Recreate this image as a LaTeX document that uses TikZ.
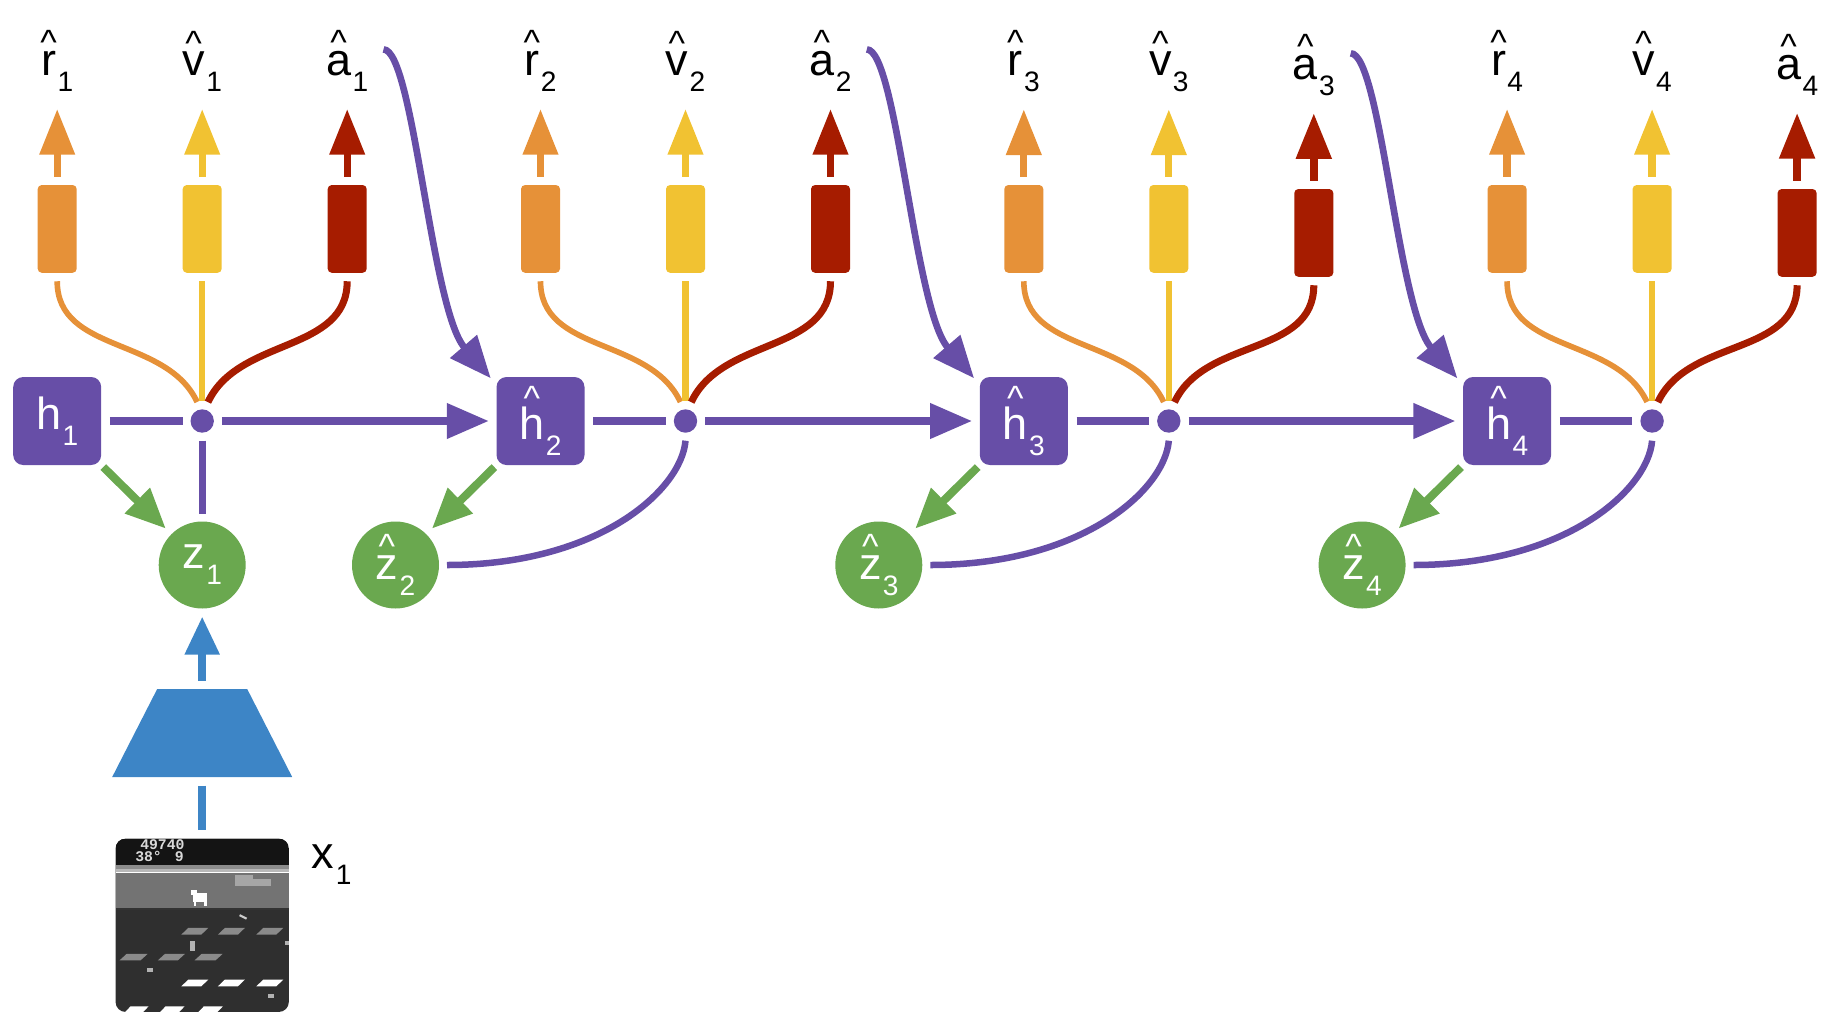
\documentclass[tikz,border=0pt]{standalone}
\usepackage{fontspec}
\setmainfont{Liberation Sans}
\newfontfamily\scrfont{Liberation Mono}
\usetikzlibrary{arrows.meta}

\definecolor{purp}{HTML}{674EA7}
\definecolor{orng}{HTML}{E69138}
\definecolor{yell}{HTML}{F1C232}
\definecolor{redd}{HTML}{A61C00}
\definecolor{grn}{HTML}{6AA84F}
\definecolor{blu}{HTML}{3D85C6}
\definecolor{scrdark}{HTML}{2F2F2F}
\definecolor{scrmid}{HTML}{737373}
\definecolor{floe}{HTML}{8A8A8A}

\newcommand{\hatl}[1]{\setbox0\hbox{#1}\hbox to\wd0{\hss\raisebox{\dimexpr\ht0-0.96pt\relax}{\fontsize{10}{10}\selectfont\textasciicircum}\hss}\kern-\wd0\box0}
\newcommand{\hsub}[2]{\hatl{#1}\kern0.4pt\raisebox{-4.5pt}{\fontsize{8}{9}\selectfont #2}}
\newcommand{\psub}[2]{#1\kern0.4pt\raisebox{-4.5pt}{\fontsize{8}{9}\selectfont #2}}

\begin{document}
\begin{tikzpicture}[
    font=\fontsize{12.8}{15}\selectfont,
    hbox/.style={rectangle, rounded corners=0.1cm, fill=purp, text=white, minimum size=0.88cm, inner sep=0},
    zc/.style={circle, fill=grn, text=white, minimum size=0.87cm, inner sep=0, outer sep=0.08cm},
    mix/.style={circle, fill=purp, minimum size=0.234cm, inner sep=0, outer sep=0.08cm},
    headbox/.style={rectangle, rounded corners=0.04cm, fill=#1, minimum width=0.39cm, minimum height=0.877cm, inner sep=0, outer sep=0.085cm},
    lab/.style={anchor=base, inner sep=0},
    scrtext/.style={inner sep=0, text=black!15, font=\scrfont\bfseries\fontsize{4.2}{5}\selectfont},
    outarrow/.style={draw=#1, line width=2.1pt, -{Triangle[length=0.457cm,width=0.34cm]}, shorten >=0.17cm},
    feed/.style={draw=#1, line width=1.8pt},
    recur/.style={draw=purp, line width=2.1pt},
    recurarrow/.style={recur, -{Triangle[length=0.42cm,width=0.34cm]}},
    zarrow/.style={draw=grn, line width=2.3pt, -{Triangle[length=0.40cm,width=0.34cm]}, shorten <=0.02cm},
    encarrow/.style={draw=blu, line width=2.3pt, -{Triangle[length=0.38cm,width=0.33cm]}},
  ]
      \useasboundingbox (0,0) rectangle (18.46,-10.24);

      \node[hbox] (h1) at (0.572,-4.21) {\psub{h}{1}};
      \node[hbox] (h2) at (5.405,-4.21) {\hsub{h}{2}};
      \node[hbox] (h3) at (10.238,-4.21) {\hsub{h}{3}};
      \node[hbox] (h4) at (15.071,-4.21) {\hsub{h}{4}};

      \node[mix] (dot1) at (2.022,-4.21) {};
      \node[mix] (dot2) at (6.855,-4.21) {};
      \node[mix] (dot3) at (11.688,-4.21) {};
      \node[mix] (dot4) at (16.521,-4.21) {};

      \node[zc] (z1) at (2.022,-5.65) {\psub{z}{1}};
      \node[zc] (z2) at (3.955,-5.65) {\hsub{z}{2}};
      \node[zc] (z3) at (8.788,-5.65) {\hsub{z}{3}};
      \node[zc] (z4) at (13.621,-5.65) {\hsub{z}{4}};

      \node[headbox=orng] (rbox1) at (0.572,-2.289) {};
      \node[headbox=yell] (vbox1) at (2.022,-2.289) {};
      \node[headbox=redd] (abox1) at (3.472,-2.289) {};
      \node[headbox=orng] (rbox2) at (5.405,-2.289) {};
      \node[headbox=yell] (vbox2) at (6.855,-2.289) {};
      \node[headbox=redd] (abox2) at (8.305,-2.289) {};
      \node[headbox=orng] (rbox3) at (10.238,-2.289) {};
      \node[headbox=yell] (vbox3) at (11.688,-2.289) {};
      \node[headbox=redd] (abox3) at (13.138,-2.329) {};
      \node[headbox=orng] (rbox4) at (15.071,-2.289) {};
      \node[headbox=yell] (vbox4) at (16.521,-2.289) {};
      \node[headbox=redd] (abox4) at (17.971,-2.329) {};

      \node[lab] (rlab1) at (0.572,-0.755) {\hsub{r}{1}};
      \node[lab] (vlab1) at (2.022,-0.755) {\hsub{v}{1}};
      \node[lab] (alab1) at (3.472,-0.755) {\hsub{a}{1}};
      \node[lab] (rlab2) at (5.405,-0.755) {\hsub{r}{2}};
      \node[lab] (vlab2) at (6.855,-0.755) {\hsub{v}{2}};
      \node[lab] (alab2) at (8.305,-0.755) {\hsub{a}{2}};
      \node[lab] (rlab3) at (10.238,-0.755) {\hsub{r}{3}};
      \node[lab] (vlab3) at (11.688,-0.755) {\hsub{v}{3}};
      \node[lab] (alab3) at (13.138,-0.793) {\hsub{a}{3}};
      \node[lab] (rlab4) at (15.071,-0.755) {\hsub{r}{4}};
      \node[lab] (vlab4) at (16.521,-0.755) {\hsub{v}{4}};
      \node[lab] (alab4) at (17.971,-0.793) {\hsub{a}{4}};

      \coordinate (aout1) at (3.835,-0.494);
      \coordinate (aout2) at (8.668,-0.494);
      \coordinate (aout3) at (13.507,-0.533);

      \draw[outarrow=orng] (rbox1.north) -- (rlab1.south);
      \draw[outarrow=yell] (vbox1.north) -- (vlab1.south);
      \draw[outarrow=redd] (abox1.north) -- (alab1.south);
      \draw[outarrow=orng] (rbox2.north) -- (rlab2.south);
      \draw[outarrow=yell] (vbox2.north) -- (vlab2.south);
      \draw[outarrow=redd] (abox2.north) -- (alab2.south);
      \draw[outarrow=orng] (rbox3.north) -- (rlab3.south);
      \draw[outarrow=yell] (vbox3.north) -- (vlab3.south);
      \draw[outarrow=redd, line width=2.3pt] (abox3.north) -- (alab3.south);
      \draw[outarrow=orng] (rbox4.north) -- (rlab4.south);
      \draw[outarrow=yell] (vbox4.north) -- (vlab4.south);
      \draw[outarrow=redd, line width=2.3pt] (abox4.north) -- (alab4.south);

      \draw[feed=orng, line width=1.6pt] (rbox1.south) to[out=-90,in=115] (dot1.105);
      \draw[feed=yell] (vbox1.south) -- (dot1.north);
      \draw[feed=redd, line width=2pt] (abox1.south) to[out=-90,in=65] (dot1.73);
      \draw[feed=orng, line width=1.6pt] (rbox2.south) to[out=-90,in=115] (dot2.105);
      \draw[feed=yell] (vbox2.south) -- (dot2.north);
      \draw[feed=redd, line width=2pt] (abox2.south) to[out=-90,in=65] (dot2.73);
      \draw[feed=orng, line width=1.6pt] (rbox3.south) to[out=-90,in=115] (dot3.105);
      \draw[feed=yell] (vbox3.south) -- (dot3.north);
      \draw[feed=redd, line width=2pt] (abox3.south) to[out=-90,in=65] (dot3.73);
      \draw[feed=orng, line width=1.6pt] (rbox4.south) to[out=-90,in=115] (dot4.105);
      \draw[feed=yell] (vbox4.south) -- (dot4.north);
      \draw[feed=redd, line width=2pt] (abox4.south) to[out=-90,in=65] (dot4.73);

      \draw[recur, shorten <=0.08cm] (h1.east) -- (dot1.west);
      \draw[recur, shorten <=0.08cm] (h2.east) -- (dot2.west);
      \draw[recur, shorten <=0.08cm] (h3.east) -- (dot3.west);
      \draw[recur, shorten <=0.08cm] (h4.east) -- (dot4.west);
      \draw[recurarrow, shorten >=0.07cm] (dot1.east) -- (h2.west);
      \draw[recurarrow, shorten >=0.07cm] (dot2.east) -- (h3.west);
      \draw[recurarrow, shorten >=0.07cm] (dot3.east) -- (h4.west);

      \draw[recur] (dot1.south) -- (z1.north);
      \draw[recur, line width=1.85pt] (dot2.south) .. controls +(-0.04,-0.49) and +(1.52,0) .. (z2.east);
      \draw[recur, line width=1.85pt] (dot3.south) .. controls +(-0.04,-0.49) and +(1.52,0) .. (z3.east);
      \draw[recur, line width=1.85pt] (dot4.south) .. controls +(-0.04,-0.49) and +(1.52,0) .. (z4.east);

      \draw[recurarrow, line width=1.9pt] (aout1) .. controls +(0.30,0) and +(-0.60,0.70) .. ([shift={(-0.05,-0.02)}]h2.north west);
      \draw[recurarrow, line width=1.9pt] (aout2) .. controls +(0.30,0) and +(-0.60,0.70) .. ([shift={(-0.05,-0.02)}]h3.north west);
      \draw[recurarrow, line width=1.9pt] (aout3) .. controls +(0.30,0) and +(-0.60,0.70) .. ([shift={(-0.05,-0.02)}]h4.north west);

      \draw[zarrow] (h1.south east) -- (z1.north west);
      \draw[zarrow] (h2.south west) -- (z2.north east);
      \draw[zarrow] (h3.south west) -- (z3.north east);
      \draw[zarrow] (h4.south west) -- (z4.north east);

      \fill[blu] (1.122,-7.77) -- (2.922,-7.77) -- (2.472,-6.89) -- (1.572,-6.89) -- cycle;
      \coordinate (enctop) at (2.022,-6.89);
      \coordinate (encbot) at (2.022,-7.77);
      \node[rectangle, rounded corners=0.1cm, fill=scrdark, minimum size=1.733cm, inner sep=0, outer sep=0.09cm] (scr) at (2.022,-9.253) {};
      \node[lab] (xlab) at (3.317,-8.683) {\psub{x}{1}};

      \draw[encarrow, shorten <=0.085cm] (enctop) -- (z1.south);
      \draw[draw=blu, line width=2.3pt, shorten <=0.087cm] (encbot) -- (scr.north);

      \begin{scope}[shift={(1.1555,-8.3865)}]
        \clip[rounded corners=0.1cm] (0,0) rectangle (1.733,-1.733);
        \fill[black!92] (0,0) rectangle (1.733,-0.26);
        \fill[black!45] (0,-0.26) rectangle (1.733,-0.30);
        \fill[black!28] (0,-0.30) rectangle (1.733,-0.33);
        \fill[white] (0,-0.33) rectangle (1.733,-0.343);
        \fill[scrmid] (0,-0.343) rectangle (1.733,-0.693);
        \fill[black!35] (1.19,-0.36) rectangle (1.373,-0.477);
        \fill[black!35] (1.373,-0.40) rectangle (1.557,-0.477);
        \fill[white] (0.775,-0.545) rectangle (0.915,-0.635);
        \fill[white] (0.757,-0.51) rectangle (0.815,-0.565);
        \fill[white] (0.78,-0.635) rectangle (0.805,-0.67);
        \fill[white] (0.885,-0.635) rectangle (0.91,-0.67);
        \fill[black!80] (0,-0.693) rectangle (1.733,-0.71);

        \fill[floe] (0.657,-0.96) -- ++(0.20,0) -- ++(0.07,0.067) -- ++(-0.20,0) -- cycle;
        \fill[floe] (1.023,-0.96) -- ++(0.20,0) -- ++(0.07,0.067) -- ++(-0.20,0) -- cycle;
        \fill[floe] (1.407,-0.96) -- ++(0.20,0) -- ++(0.07,0.067) -- ++(-0.20,0) -- cycle;
        \fill[floe] (0.04,-1.217) -- ++(0.21,0) -- ++(0.07,0.064) -- ++(-0.21,0) -- cycle;
        \fill[floe] (0.423,-1.217) -- ++(0.20,0) -- ++(0.07,0.064) -- ++(-0.20,0) -- cycle;
        \fill[floe] (0.79,-1.217) -- ++(0.21,0) -- ++(0.07,0.064) -- ++(-0.21,0) -- cycle;
        \fill[white] (0.657,-1.477) -- ++(0.20,0) -- ++(0.07,0.067) -- ++(-0.20,0) -- cycle;
        \fill[white] (1.023,-1.477) -- ++(0.20,0) -- ++(0.07,0.067) -- ++(-0.20,0) -- cycle;
        \fill[white] (1.407,-1.477) -- ++(0.20,0) -- ++(0.07,0.067) -- ++(-0.20,0) -- cycle;
        \fill[white] (0.09,-1.74) -- ++(0.18,0) -- ++(0.06,0.063) -- ++(-0.18,0) -- cycle;
        \fill[white] (0.44,-1.74) -- ++(0.19,0) -- ++(0.06,0.063) -- ++(-0.19,0) -- cycle;
        \fill[white] (0.823,-1.74) -- ++(0.19,0) -- ++(0.06,0.063) -- ++(-0.19,0) -- cycle;

        \fill[black!30] (0.745,-1.02) rectangle (0.79,-1.125);
        \fill[black!30] (0.31,-1.29) rectangle (0.37,-1.33);
        \fill[black!30] (1.527,-1.55) rectangle (1.587,-1.59);
        \fill[black!30] (1.69,-1.02) rectangle (1.733,-1.065);
        \draw[black!20, line width=0.6pt] (1.24,-0.765) -- (1.31,-0.80);

        \node[scrtext, anchor=base west] (score) at (0.24,-0.11) {49740};
        \node[scrtext, anchor=base west] (temp) at (0.19,-0.227) {38°};
        \node[scrtext, anchor=base east] (lives) at (0.69,-0.227) {9};
      \end{scope}
    \end{tikzpicture}
\end{document}
